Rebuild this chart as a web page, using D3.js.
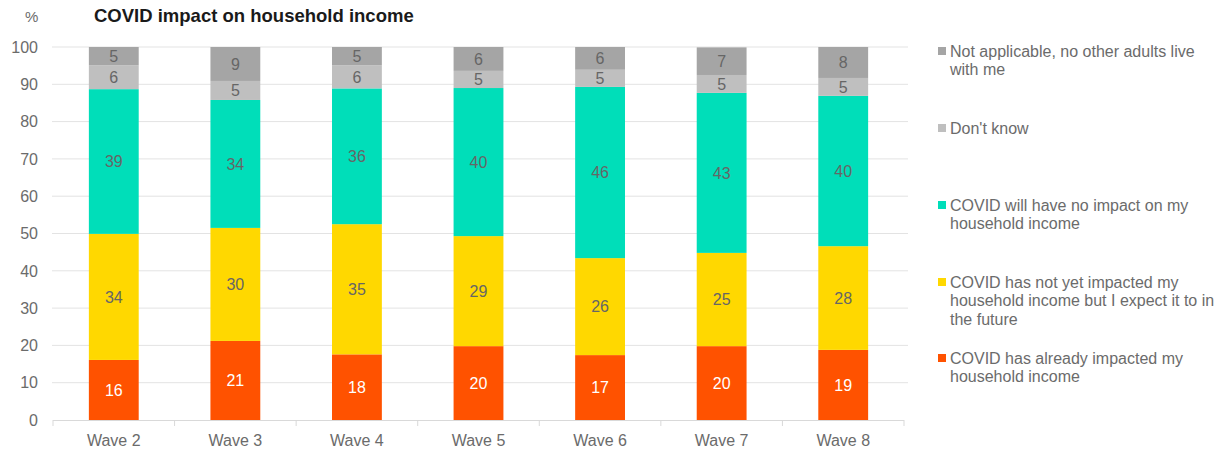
<!DOCTYPE html>
<html><head><meta charset="utf-8">
<script src="https://cdn.jsdelivr.net/npm/d3@7"></script>
<style>body{margin:0;background:#fff;}text{font-family:"Liberation Sans",Arial,sans-serif;}</style>
</head><body>
<svg id="c" width="1222" height="450"></svg>
<script>
const categories = ["Wave 2","Wave 3","Wave 4","Wave 5","Wave 6","Wave 7","Wave 8"];
const alreadyImpacted = [16.1, 21.2, 17.6, 19.8, 17.4, 19.8, 18.8];
const expectFuture   = [33.8, 30.3, 34.9, 29.5, 26.0, 25.0, 27.8];
const noImpact       = [38.8, 34.3, 36.4, 39.7, 45.9, 42.9, 40.3];
const dontKnow       = [6.4, 5.1, 6.2, 4.6, 4.6, 4.8, 4.8];
const notApplicable  = [4.9, 9.1, 4.9, 6.4, 6.1, 7.4, 8.3];
const seriesNames = [
  "COVID has already impacted my household income",
  "COVID has not yet impacted my household income but I expect it to in the future",
  "COVID will have no impact on my household income",
  "Don't know",
  "Not applicable, no other adults live with me"
];
const legendLines = [
  ["COVID has already impacted my","household income"],
  ["COVID has not yet impacted my","household income but I expect it to in","the future"],
  ["COVID will have no impact on my","household income"],
  ["Don't know"],
  ["Not applicable, no other adults live","with me"]
];
const yTicks = [0,10,20,30,40,50,60,70,80,90,100];
const colors = ["#FF5200","#FFD800","#00DEB9","#BFBFBF","#A5A5A5"];
const labelColors = ["#ffffff","#666666","#666666","#666666","#666666"];
const legendY = [358, 282, 205, 128, 51];

const seriesData = [alreadyImpacted, expectFuture, noImpact, dontKnow, notApplicable];
const rows = categories.map((c,i)=>{const r={cat:c}; seriesData.forEach((s,k)=>r["s"+k]=s[i]); return r;});
const keys = seriesData.map((_,k)=>"s"+k);
const stacked = d3.stack().keys(keys)(rows);

const svg = d3.select("#c");
const x = d3.scaleBand().domain(categories).range([53, 904]).paddingInner(0.59).paddingOuter(0.295);
const y = d3.scaleLinear().domain([0,100]).range([420, 47]);
const txt = "#6b6b6b";

// gridlines
svg.append("g").selectAll("line").data(yTicks.filter(t=>t>0)).join("line")
  .attr("x1",52).attr("x2",908).attr("y1",d=>y(d)).attr("y2",d=>y(d))
  .attr("stroke","#E3E3E3").attr("stroke-width",1);

// y labels
svg.append("g").selectAll("text").data(yTicks).join("text")
  .attr("x",38).attr("y",d=>y(d)).attr("dy","0.36em").attr("text-anchor","end")
  .attr("font-size",16).attr("fill",txt).text(d=>d);

// bars
const g = svg.append("g");
stacked.forEach((layer,k)=>{
  g.append("g").selectAll("rect").data(layer).join("rect")
    .attr("x",d=>x(d.data.cat)).attr("width",x.bandwidth())
    .attr("y",d=>y(d[1])).attr("height",d=>y(d[0])-y(d[1]))
    .attr("fill",colors[k]);
  g.append("g").selectAll("text").data(layer).join("text")
    .attr("x",d=>x(d.data.cat)+x.bandwidth()/2).attr("y",d=>(y(d[0])+y(d[1]))/2)
    .attr("dy","0.36em").attr("text-anchor","middle").attr("font-size",16)
    .attr("fill",labelColors[k]).text(d=>Math.round(d[1]-d[0]));
});

// x axis
const xa = svg.append("g");
xa.append("line").attr("x1",53).attr("x2",904).attr("y1",420.5).attr("y2",420.5).attr("stroke","#D9D9D9");
const edges = d3.range(categories.length+1).map(i=>x.range()[0] + i*x.step());
xa.selectAll(".tk").data(edges).join("line").attr("class","tk")
  .attr("x1",d=>d).attr("x2",d=>d).attr("y1",420).attr("y2",426).attr("stroke","#D9D9D9");
xa.selectAll("text").data(categories).join("text")
  .attr("x",d=>x(d)+x.bandwidth()/2).attr("y",446).attr("text-anchor","middle")
  .attr("font-size",16).attr("fill",txt).text(d=>d);

// title
svg.append("text").attr("x",25).attr("y",22).attr("font-size",15).attr("fill",txt).text("%");
svg.append("text").attr("x",94).attr("y",22).attr("font-size",18.5).attr("font-weight","bold").attr("fill","#1a1a1a").text("COVID impact on household income");

// legend
const lg = svg.append("g");
legendLines.forEach((lines,k)=>{
  lg.append("rect").attr("x",938).attr("y",legendY[k]-4).attr("width",8).attr("height",8).attr("fill",colors[k]);
  lines.forEach((ln,j)=>{
    lg.append("text").attr("x",950).attr("y",legendY[k]+j*18.7).attr("dy","0.36em").attr("font-size",16).attr("fill",txt).text(ln);
  });
});
</script>
</body></html>
